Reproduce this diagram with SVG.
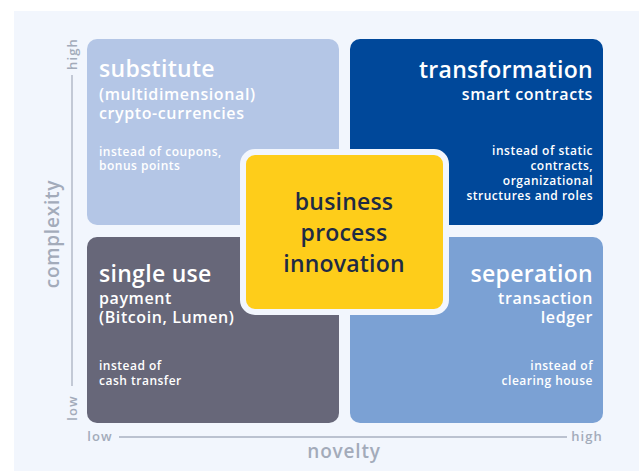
<svg xmlns="http://www.w3.org/2000/svg" width="639" height="471" viewBox="0 0 639 471">
<style>
text{font-family:"Open Sans",Lato,"DejaVu Sans",sans-serif;font-weight:600;}
.w{fill:#ffffff}
.t1{font-size:23px;letter-spacing:0.3px}
.t2{font-size:16px;letter-spacing:0.6px}
.t3{font-size:12px;letter-spacing:0.5px}
.r{text-anchor:end}
.ax{fill:#a3abba;text-anchor:middle}
.axs{font-size:13px;letter-spacing:1.1px}
.axl{font-size:19px;letter-spacing:0.8px}
.c{font-size:23px;letter-spacing:0.2px;fill:#1e2b45;text-anchor:middle}
</style>
<rect x="0" y="0" width="639" height="471" fill="#ffffff"/>
<rect x="14" y="11" width="625" height="460" fill="#f2f6fd"/>
<g id="axes">
<line x1="72" y1="75" x2="72" y2="386" stroke="#a9b1c1" stroke-width="1.3"/>
<line x1="119" y1="437" x2="567" y2="437" stroke="#a9b1c1" stroke-width="1.3"/>
<text class="ax axs" transform="translate(77,54) rotate(-90)">high</text>
<text class="ax axs" transform="translate(77,408) rotate(-90)">low</text>
<text class="ax axl" transform="translate(59,234) rotate(-90)">complexity</text>
<text class="ax axs" x="100" y="441">low</text>
<text class="ax axs" x="587" y="441">high</text>
<text class="ax axl" x="344" y="458">novelty</text>
</g>
<g id="substitute">
<rect x="87" y="39" width="252" height="186" rx="10" fill="#b4c6e6"/>
<text class="w t1" x="99" y="77">substitute</text>
<text class="w t2" x="99" y="100">(multidimensional)</text>
<text class="w t2" x="99" y="119">crypto-currencies</text>
<text class="w t3" x="99" y="156">instead of coupons,</text>
<text class="w t3" x="99" y="170">bonus points</text>
</g>
<g id="transformation">
<rect x="350" y="39" width="253" height="186" rx="10" fill="#00489a"/>
<text class="w t1 r" x="593" y="78">transformation</text>
<text class="w t2 r" x="593" y="100">smart contracts</text>
<text class="w t3 r" x="593" y="155">instead of static</text>
<text class="w t3 r" x="593" y="170">contracts,</text>
<text class="w t3 r" x="593" y="185">organizational</text>
<text class="w t3 r" x="593" y="200">structures and roles</text>
</g>
<g id="single-use">
<rect x="87" y="237" width="252" height="186" rx="10" fill="#676779"/>
<text class="w t1" x="99" y="282">single use</text>
<text class="w t2" x="99" y="304">payment</text>
<text class="w t2" x="99" y="323">(Bitcoin, Lumen)</text>
<text class="w t3" x="99" y="370">instead of</text>
<text class="w t3" x="99" y="385">cash transfer</text>
</g>
<g id="seperation">
<rect x="350" y="237" width="253" height="186" rx="10" fill="#7ba1d4"/>
<text class="w t1 r" x="593" y="282">seperation</text>
<text class="w t2 r" x="593" y="304">transaction</text>
<text class="w t2 r" x="593" y="323">ledger</text>
<text class="w t3 r" x="593" y="370">instead of</text>
<text class="w t3 r" x="593" y="385">clearing house</text>
</g>
<g id="business-process-innovation">
<rect x="243" y="152" width="203" height="160" rx="12" fill="#fecd1a" stroke="#f2f6fd" stroke-width="6"/>
<text class="c" x="344" y="210">business</text>
<text class="c" x="344" y="241">process</text>
<text class="c" x="344" y="272">innovation</text>
</g>
</svg>
